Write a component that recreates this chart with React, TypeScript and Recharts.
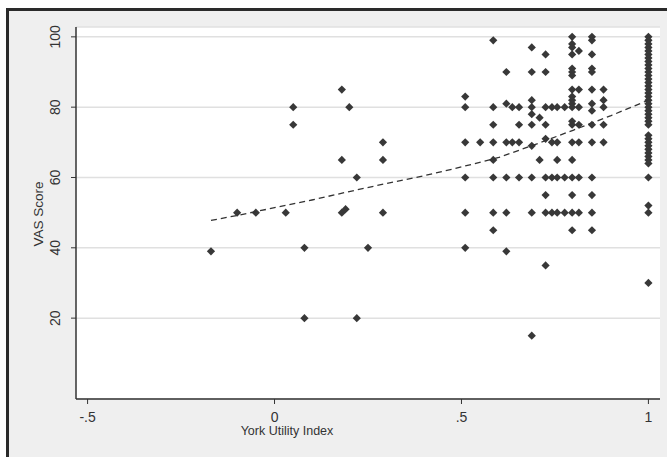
import { ScatterChart, Scatter, XAxis, YAxis, CartesianGrid, Label } from 'recharts'

// York Utility Index (x) and VAS Score (y)
const york = [
  -0.17, -0.1, -0.05, 0.03, 0.05, 0.05, 0.08, 0.08, 0.18, 0.18, 0.18, 0.19, 0.2, 0.22, 0.22, 0.25, 0.29, 0.29, 0.29,
  0.51, 0.51, 0.51, 0.51, 0.51, 0.51, 0.55,
  0.585, 0.585, 0.585, 0.585, 0.585, 0.585, 0.585, 0.585,
  0.62, 0.62, 0.62, 0.62, 0.62, 0.62, 0.636, 0.636, 0.654, 0.654, 0.654, 0.654,
  0.688, 0.688, 0.688, 0.688, 0.688, 0.688, 0.688, 0.688, 0.688, 0.688, 0.709, 0.709,
  0.725, 0.725, 0.725, 0.725, 0.725, 0.725, 0.725, 0.725, 0.725,
  0.742, 0.742, 0.742, 0.742, 0.756, 0.756, 0.756, 0.756, 0.756, 0.776, 0.776, 0.776,
  0.796, 0.796, 0.796, 0.796, 0.796, 0.796, 0.796, 0.796, 0.796, 0.796, 0.796, 0.796, 0.796, 0.796, 0.796, 0.796, 0.796, 0.796, 0.796, 0.796,
  0.814, 0.814, 0.814, 0.814, 0.814, 0.814, 0.814,
  0.849, 0.849, 0.849, 0.849, 0.849, 0.849, 0.849, 0.849, 0.849, 0.849, 0.849, 0.849, 0.849, 0.849,
  0.88, 0.88, 0.88, 0.88, 0.88,
  1, 1, 1, 1, 1, 1, 1, 1, 1, 1, 1, 1, 1, 1, 1, 1, 1, 1, 1, 1, 1, 1, 1, 1, 1, 1,
  1, 1, 1, 1, 1, 1, 1, 1, 1, 1, 1, 1, 1,
]
const vas = [
  39, 50, 50, 50, 80, 75, 40, 20, 85, 65, 50, 51, 80, 60, 20, 40, 70, 65, 50,
  83, 80, 70, 60, 50, 40, 70,
  99, 80, 75, 70, 65, 60, 50, 45,
  90, 81, 70, 60, 50, 39, 80, 70, 80, 75, 70, 60,
  97, 90, 82, 80, 78, 75, 69, 60, 50, 15, 77, 65,
  95, 90, 80, 75, 71, 60, 55, 50, 35,
  80, 70, 60, 50, 80, 70, 65, 60, 50, 80, 60, 50,
  100, 98, 97, 95, 91, 90, 89, 85, 83, 82, 81, 80, 76, 75, 70, 65, 60, 55, 50, 45,
  96, 85, 80, 75, 70, 60, 50,
  100, 99, 95, 91, 90, 85, 81, 79, 75, 70, 60, 55, 50, 45,
  85, 82, 80, 75, 70,
  100, 99, 98, 97, 96, 95, 94, 93, 92, 91, 90, 89, 88, 87, 86, 85, 84, 83, 82, 81, 80, 79, 78, 77, 76, 75,
  72, 71, 70, 69, 68, 67, 66, 65, 64, 60, 52, 50, 30,
]

// dashed fitted curve
const fitX = [-0.17, -0.1, 0, 0.1, 0.2, 0.3, 0.4, 0.5, 0.6, 0.7, 0.8, 0.9, 1]
const fitY = [47.8, 49.2, 51.4, 53.6, 56, 58.3, 60.5, 63, 65.7, 69.5, 73.5, 77.6, 82]

const xTicks = [-0.5, 0, 0.5, 1]
const yTicks = [20, 40, 60, 80, 100]

const points = york.map((x, i) => ({ x, y: vas[i] }))
const fit = fitX.map((x, i) => ({ x, y: fitY[i] }))

const FONT = '"Liberation Sans", Arial, sans-serif'

const fmtX = (v: number) => (v === 0 ? '0' : String(v).replace('0.', '.'))

function Diamond({ cx, cy }: any) {
  const r = 4.1
  return <path d={`M${cx},${cy - r}L${cx + r},${cy}L${cx},${cy + r}L${cx - r},${cy}Z`} fill="#383838" />
}

function YTick({ x, y, payload }: any) {
  const bx = x - 9
  return (
    <text x={bx} y={y} transform={`rotate(-90, ${bx}, ${y})`} textAnchor="middle" fontSize={14} fill="#333" fontFamily={FONT}>
      {payload.value}
    </text>
  )
}

export default function App() {
  return (
    <div style={{ position: 'absolute', left: 0, top: 0, width: 667, height: 457, background: '#fff', overflow: 'hidden' }}>
      <div style={{ position: 'absolute', left: 6, top: 8, width: 661, height: 449, boxSizing: 'border-box', borderLeft: '3px solid #2a2a2a', borderTop: '3px solid #2a2a2a', background: '#efefef' }} />
      <div style={{ position: 'absolute', left: 0, top: 0 }}>
        <ScatterChart width={667} height={457} margin={{ top: 27, right: 7, bottom: 0, left: 0 }}>
          <CartesianGrid vertical={false} fill="#fff" stroke="#e0e0e0" strokeWidth={1.5} />
          <XAxis
            type="number" dataKey="x" domain={[-0.531, 1.031]} allowDataOverflow ticks={xTicks}
            tickFormatter={fmtX} height={58} tickSize={5} tickMargin={8}
            axisLine={{ stroke: '#333', strokeWidth: 1.5 }} tickLine={{ stroke: '#333' }}
            tick={{ fontSize: 14, fill: '#333', fontFamily: FONT }}
          >
            <Label content={() => (
              <text x={287} y={435} textAnchor="middle" fontSize={12.5} fill="#333" fontFamily={FONT}>York Utility Index</text>
            )} />
          </XAxis>
          <YAxis
            type="number" dataKey="y" domain={[-3, 102.8]} allowDataOverflow ticks={yTicks}
            width={76} tickSize={5} tickMargin={2}
            axisLine={{ stroke: '#333', strokeWidth: 1.5 }} tickLine={{ stroke: '#333' }}
            tick={<YTick />}
          >
            <Label content={() => (
              <text x={43} y={214} transform="rotate(-90, 43, 214)" textAnchor="middle" fontSize={13.5} fill="#333" fontFamily={FONT}>VAS Score</text>
            )} />
          </YAxis>
          <Scatter data={points} shape={<Diamond />} isAnimationActive={false} />
          <Scatter
            data={fit} shape={() => <g />} line={{ stroke: '#333', strokeWidth: 1.3, strokeDasharray: '6 4' }}
            lineType="joint" isAnimationActive={false}
          />
        </ScatterChart>
      </div>
    </div>
  )
}
